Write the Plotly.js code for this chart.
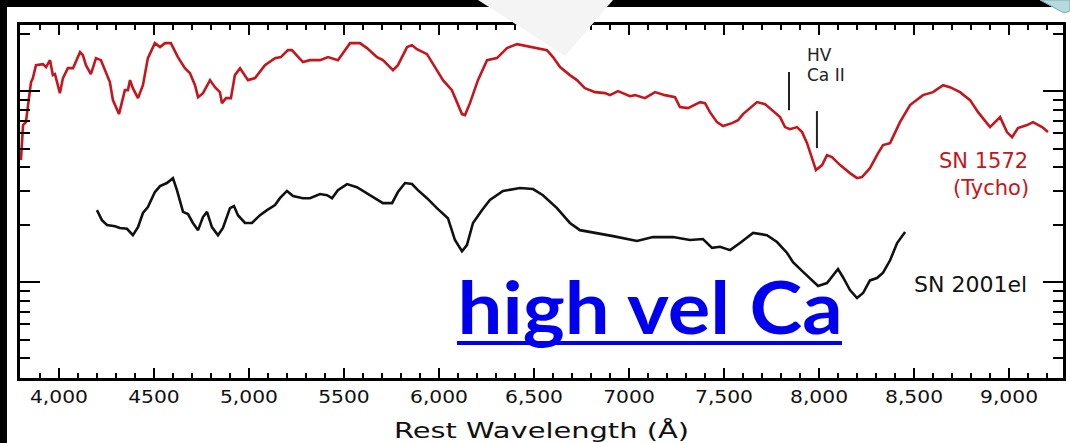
<!DOCTYPE html>
<html>
<head>
<meta charset="utf-8">
<script src="https://cdn.plot.ly/plotly-3.0.1.min.js"></script>
<style>
  html, body { margin: 0; padding: 0; background: #ffffff; }
  #chart { width: 1070px; height: 443px; }
</style>
</head>
<body>
<div id="chart"></div>
<script>
// ---- Data ----
// SN 1572 (Tycho) spectrum: rest wavelength (Å) and relative flux (log-scaled axis)
const tychoWave = [3800,3811,3826,3853,3863,3879,3916,3932,3953,3968,3979,4005,4021,4047,4074,4111,4126,4142,4168,4195,4221,4247,4268,4284,4311,4316,4347,4363,4374,4389,4416,4442,4468,4505,4532,4558,4589,4626,4663,4689,4716,4732,4758,4795,4821,4847,4858,4879,4905,4926,4953,4995,5032,5084,5137,5168,5205,5226,5284,5321,5374,5416,5468,5532,5584,5621,5674,5705,5758,5784,5832,5858,5884,5937,5979,6021,6068,6095,6121,6137,6163,6205,6253,6305,6358,6411,6463,6516,6568,6600,6637,6689,6726,6768,6821,6874,6900,6942,7005,7032,7084,7137,7189,7242,7268,7311,7347,7374,7400,7426,7463,7495,7542,7574,7600,7637,7674,7716,7758,7795,7821,7847,7884,7911,7937,7963,7984,8016,8042,8068,8111,8163,8200,8226,8268,8311,8337,8374,8426,8479,8547,8600,8653,8689,8742,8795,8837,8900,8953,8989,9016,9047,9095,9126,9174,9205];
const tychoFlux = [4.35,6.64,6.88,11.15,11.70,13.68,13.85,13.36,14.53,12.13,12.27,9.76,11.70,13.19,13.19,16.00,15.43,13.68,12.27,14.89,14.53,12.58,11.15,8.97,7.67,7.58,10.12,10.12,11.42,10.37,9.19,10.75,14.89,17.84,17.00,17.84,17.84,15.07,13.19,12.43,10.75,9.30,9.76,11.42,10.49,9.88,8.65,9.19,9.19,12.13,13.19,11.42,11.70,13.68,14.89,15.07,16.40,16.40,14.19,14.53,14.53,15.07,14.53,17.84,17.84,16.80,15.07,14.53,12.88,13.68,17.00,17.41,16.59,15.62,13.36,11.42,10.12,8.65,7.58,7.49,8.65,11.42,14.53,14.89,16.80,17.63,17.20,16.80,16.40,15.07,13.36,12.13,11.42,10.37,9.88,9.76,9.53,10.00,9.41,9.53,9.19,9.88,9.53,9.30,8.25,8.15,8.45,8.76,8.65,7.76,6.88,6.56,6.80,7.05,7.58,8.15,8.76,8.55,7.86,7.31,6.48,6.32,6.48,6.10,5.34,4.51,3.86,4.10,4.62,4.51,4.10,3.72,3.50,3.55,3.95,4.74,5.22,5.34,6.88,8.45,9.53,9.88,10.75,10.49,9.88,8.97,7.76,6.48,7.31,6.10,5.74,6.40,6.64,6.88,6.48,6.10];

// SN 2001el spectrum
const el01Wave = [4200,4226,4253,4295,4321,4358,4389,4416,4442,4468,4505,4532,4568,4600,4621,4653,4679,4705,4732,4758,4779,4805,4837,4863,4900,4921,4942,4979,5016,5058,5095,5137,5163,5200,5232,5284,5321,5374,5411,5437,5468,5516,5568,5621,5674,5705,5753,5784,5821,5858,5889,5937,5989,6047,6084,6121,6147,6179,6226,6268,6337,6426,6495,6547,6621,6689,6742,6832,6916,7042,7126,7232,7321,7389,7437,7479,7532,7584,7653,7726,7779,7832,7863,7916,7995,8042,8100,8126,8163,8200,8232,8268,8305,8337,8374,8411,8453];
const el01Flux = [2.38,2.11,1.99,1.96,1.92,1.90,1.76,1.94,2.30,2.47,2.96,3.18,3.30,3.50,3.03,2.33,2.27,2.04,1.87,2.19,2.33,1.94,1.76,1.92,2.44,2.50,2.24,2.04,2.04,2.24,2.38,2.53,2.75,3.00,2.82,2.75,2.75,2.89,2.85,2.75,3.03,3.26,3.14,2.92,2.69,2.59,2.59,2.96,3.30,3.26,3.03,2.75,2.44,2.16,1.66,1.45,1.56,2.04,2.38,2.69,3.00,3.11,3.07,2.85,2.44,2.04,1.87,1.81,1.74,1.64,1.72,1.72,1.66,1.68,1.51,1.53,1.47,1.60,1.81,1.76,1.62,1.42,1.27,1.13,0.953,0.988,1.17,1.06,0.908,0.825,0.876,1.02,1.05,1.12,1.30,1.60,1.83];

// HV Ca II marker ticks (wavelength, top flux, bottom flux)
const caMarkWave = [7842, 7989];
const caMarkTop = [12.6, 7.86];
const caMarkBottom = [7.95, 5.03];

// Axis ticks
const xTickVals = [4000,4500,5000,5500,6000,6500,7000,7500,8000,8500,9000];
const xTickText = ["4,000","4500","5,000","5500","6,000","6,500","7000","7,500","8,000","8,500","9,000"];
const yMajorTicks = [1, 10];
const yMinorTicks = [0.4,0.5,0.6,0.7,0.8,0.9,2,3,4,5,6,7,8,9,20];

// ---- Build ----
const RED = '#c4161c';
const LINK_BLUE = '#0000ee';

const markX = [], markY = [];
caMarkWave.forEach((w, i) => { markX.push(w, w, null); markY.push(caMarkTop[i], caMarkBottom[i], null); });

const traces = [
  { x: tychoWave, y: tychoFlux, type: 'scatter', mode: 'lines', name: 'SN 1572 (Tycho)',
    line: { color: RED, width: 2.6 }, hoverinfo: 'skip' },
  { x: el01Wave, y: el01Flux, type: 'scatter', mode: 'lines', name: 'SN 2001el',
    line: { color: '#111111', width: 2.6 }, hoverinfo: 'skip' },
  { x: markX, y: markY, type: 'scatter', mode: 'lines', name: 'HV Ca II',
    line: { color: '#222222', width: 2 }, hoverinfo: 'skip' }
];

// pixel -> paper helpers for decoration only
const PL = 20, PR = 1063, PT = 25, PB = 378;
const px = v => (v - PL) / (PR - PL);
const py = v => (PB - v) / (PB - PT);

const layout = {
  width: 1070, height: 443,
  margin: { l: PL, r: 1070 - PR, t: PT, b: 443 - PB, pad: 0 },
  paper_bgcolor: '#ffffff', plot_bgcolor: '#ffffff',
  showlegend: false,
  xaxis: {
    type: 'linear', range: [3795, 9284], autorange: false,
    showgrid: false, zeroline: false,
    showline: true, linecolor: '#000', linewidth: 3, mirror: 'ticks',
    ticks: 'inside', ticklen: 10, tickwidth: 2, tickcolor: '#000',
    tickmode: 'array', tickvals: xTickVals, ticktext: xTickText,
    tickfont: { family: 'DejaVu Sans', size: 18, color: '#111' },
    minor: { ticks: 'inside', dtick: 100, tick0: 0, ticklen: 5, tickwidth: 2, tickcolor: '#000', showgrid: false },
    title: { text: 'Rest Wavelength (Å)', font: { family: 'DejaVu Sans', size: 22, color: '#111' }, standoff: 20 },
    automargin: false
  },
  yaxis: {
    type: 'log', range: [Math.log10(0.3144), Math.log10(22.2)], autorange: false,
    showgrid: false, zeroline: false, showticklabels: false,
    showline: true, linecolor: '#000', linewidth: 3, mirror: 'ticks',
    ticks: 'inside', ticklen: 20, tickwidth: 2, tickcolor: '#000',
    tickmode: 'array', tickvals: yMajorTicks,
    minor: { ticks: 'inside', tickmode: 'array', tickvals: yMinorTicks, ticklen: 10, tickwidth: 2, tickcolor: '#000', showgrid: false },
    automargin: false
  },
  annotations: [
    { xref: 'paper', yref: 'paper', x: px(805), y: py(55), xanchor: 'left', yanchor: 'middle',
      text: 'HV', showarrow: false, font: { family: 'DejaVu Sans', size: 17, color: '#222' } },
    { xref: 'paper', yref: 'paper', x: px(805), y: py(75), xanchor: 'left', yanchor: 'middle',
      text: 'Ca II', showarrow: false, font: { family: 'DejaVu Sans', size: 17, color: '#222' } },
    { xref: 'paper', yref: 'paper', x: px(1030), y: py(161), xanchor: 'right', yanchor: 'middle',
      text: 'SN 1572', showarrow: false, font: { family: 'DejaVu Sans', size: 21, color: RED } },
    { xref: 'paper', yref: 'paper', x: px(1031), y: py(188), xanchor: 'right', yanchor: 'middle',
      text: '(Tycho)', showarrow: false, font: { family: 'DejaVu Sans', size: 21, color: RED } },
    { xref: 'paper', yref: 'paper', x: px(1029), y: py(284), xanchor: 'right', yanchor: 'middle',
      text: 'SN 2001el', showarrow: false, font: { family: 'DejaVu Sans', size: 22, color: '#111' } },
    { xref: 'paper', yref: 'paper', x: px(649.5), y: py(306), xanchor: 'center', yanchor: 'middle',
      text: 'high vel Ca', showarrow: false,
      font: { family: 'Lato', size: 72, color: LINK_BLUE, weight: 'bold' } }
  ],
  shapes: [
    // underline of the slide's link-style caption
    { type: 'line', xref: 'paper', yref: 'paper', x0: px(457), x1: px(842), y0: py(343), y1: py(343),
      line: { color: LINK_BLUE, width: 4 }, layer: 'above' },
    { type: 'rect', xref: 'paper', yref: 'paper', x0: px(0), x1: px(1070), y0: py(7), y1: py(0),
      fillcolor: '#000', line: { width: 0 }, layer: 'above' },
    { type: 'rect', xref: 'paper', yref: 'paper', x0: px(0), x1: px(7), y0: py(443), y1: py(0),
      fillcolor: '#000', line: { width: 0 }, layer: 'above' },
    { type: 'path', xref: 'paper', yref: 'paper',
      path: `M ${px(478)},${py(0)} L ${px(613)},${py(0)} L ${px(565)},${py(56)} Z`,
      fillcolor: '#f4f4f4', line: { width: 0 }, layer: 'above' },
    { type: 'path', xref: 'paper', yref: 'paper',
      path: `M ${px(1040)},${py(0)} L ${px(1070)},${py(0)} L ${px(1070)},${py(11)} L ${px(1064)},${py(13)} Z`,
      fillcolor: '#b5d9dc', line: { color: '#7fa9b0', width: 1 }, layer: 'above' }
  ]
};

Plotly.newPlot('chart', traces, layout, { displayModeBar: false, staticPlot: true }).then(() => {
  const xt = document.querySelector('.xtitle');
  if (xt) { xt.setAttribute('textLength', '295'); xt.setAttribute('lengthAdjust', 'spacingAndGlyphs'); }
  document.querySelectorAll('.annotation-text').forEach(t => {
    if (t.textContent.indexOf('high vel Ca') >= 0) {
      t.setAttribute('textLength', '385'); t.setAttribute('lengthAdjust', 'spacingAndGlyphs');
    }
  });
  // widen the tick labels to the reference's proportions
  const ticks = document.querySelectorAll('.xtick text');
  if (ticks.length) {
    const base = ticks[0].getComputedTextLength();
    const f = base > 0 ? 58 / base : 1;
    ticks.forEach(t => {
      const w = t.getComputedTextLength();
      t.setAttribute('textLength', String(w * f));
      t.setAttribute('lengthAdjust', 'spacingAndGlyphs');
    });
  }
});
</script>
</body>
</html>
